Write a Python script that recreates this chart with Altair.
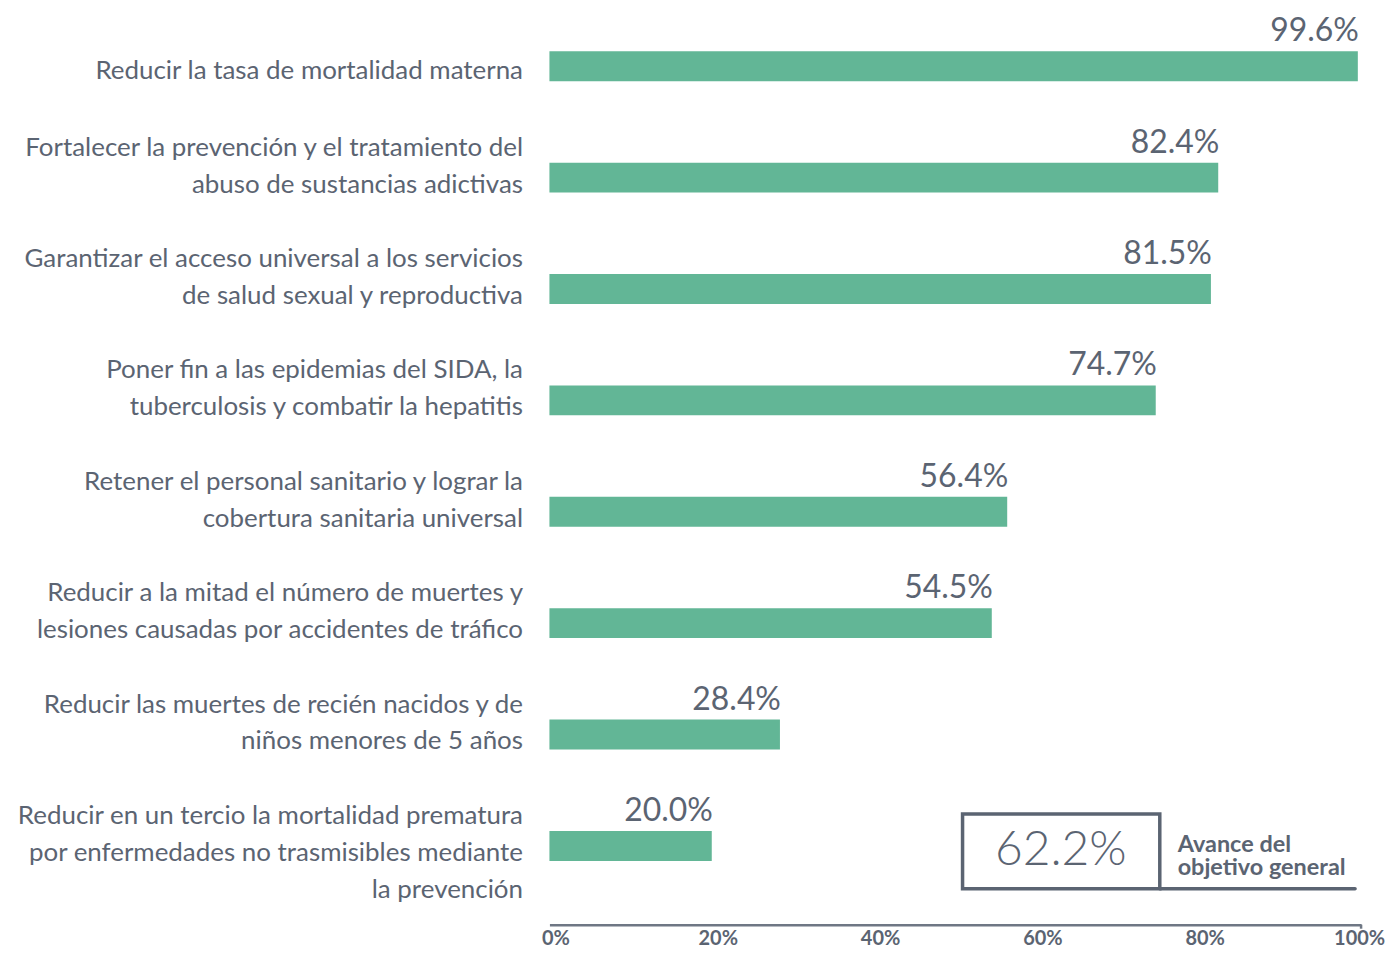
import altair as alt
import pandas as pd

labels = [
    "Reducir la tasa de mortalidad materna",
    "Fortalecer la prevención y el tratamiento del|abuso de sustancias adictivas",
    "Garantizar el acceso universal a los servicios|de salud sexual y reproductiva",
    "Poner fin a las epidemias del SIDA, la|tuberculosis y combatir la hepatitis",
    "Retener el personal sanitario y lograr la|cobertura sanitaria universal",
    "Reducir a la mitad el número de muertes y|lesiones causadas por accidentes de tráfico",
    "Reducir las muertes de recién nacidos y de|niños menores de 5 años",
    "Reducir en un tercio la mortalidad prematura|por enfermedades no trasmisibles mediante|la prevención",
]
values = [99.6, 82.4, 81.5, 74.7, 56.4, 54.5, 28.4, 20.0]
x_ticks = [0, 20, 40, 60, 80, 100]
overall_value = 62.2
overall_text = ["Avance del", "objetivo general"]

TEXT = "#5b6472"
GREEN = "#62b696"
AXIS = "#6f7784"
FONT = "Lato"
H = 896
OFF = 22

df = pd.DataFrame({"label": labels, "value": values})

y_enc = alt.Y(
    "label:N",
    sort=labels,
    title=None,
    scale=alt.Scale(paddingInner=0.7314, paddingOuter=0.376),
    axis=alt.Axis(
        labelExpr="split(datum.label, '|')",
        labelAlign="right",
        labelBaseline="middle",
        labelPadding=27,
        labelFontSize=26,
        labelLineHeight=37,
        labelColor=TEXT,
        labelFont=FONT,
        labelLimit=700,
        labelOffset={
            "condition": [
                {"test": "length(split(datum.value, '|')) == 1", "value": 5},
            ],
            "value": -30,
        },
        domain=False,
        ticks=False,
    ),
)

x_scale = alt.Scale(domain=[0, 100], nice=False)

bars = alt.Chart(df).mark_bar(color=GREEN).encode(
    x=alt.X(
        "value:Q",
        scale=x_scale,
        title=None,
        axis=alt.Axis(
            values=x_ticks,
            labelExpr="datum.value + '%'",
            labelFontSize=20,
            labelFontWeight="bold",
            labelColor=TEXT,
            labelFont=FONT,
            labelPadding=4,
            labelOffset={
                "condition": [{"test": "datum.value == 100", "value": -2}],
                "value": 6,
            },
            ticks=False,
            grid=False,
            domainColor=AXIS,
            domainWidth=2.5,
            offset=OFF,
            labelFlush=False,
        ),
    ),
    y=y_enc,
)

end_tick = alt.Chart(pd.DataFrame({"v": [100]})).mark_rule(
    stroke=AXIS, strokeWidth=2.5
).encode(
    x=alt.X("v:Q", scale=x_scale, title=None),
    y=alt.value(H + OFF),
    y2=alt.value(H + OFF + 4),
)

value_text = alt.Chart(df).transform_calculate(
    txt="format(datum.value, '.1f') + '%'"
).mark_text(
    align="right", baseline="alphabetic", dy=-25, dx=1,
    fontSize=32, fontWeight=400, font=FONT, color=TEXT
).encode(
    x=alt.X("value:Q", scale=x_scale, title=None),
    y=alt.Y("label:N", sort=labels, title=None),
    text="txt:N",
)

box = alt.Chart(pd.DataFrame({"v": [overall_value]})).mark_rect(
    filled=False, stroke=TEXT, strokeWidth=3.5
).encode(
    x=alt.datum(50.9, scale=x_scale, title=None),
    x2=alt.datum(75.2),
    y=alt.value(807),
    y2=alt.value(882),
)

underline = alt.Chart(pd.DataFrame({"v": [overall_value]})).mark_rule(
    stroke=TEXT, strokeWidth=3.5, strokeCap="round"
).encode(
    x=alt.datum(75.2, scale=x_scale, title=None),
    x2=alt.datum(99.26),
    y=alt.value(882),
)

big = alt.Chart(pd.DataFrame({"v": [overall_value]})).transform_calculate(
    txt="format(datum.v, '.1f') + '%'"
).mark_text(
    align="center", baseline="alphabetic", fontSize=48, fontWeight=300,
    font=FONT, color=TEXT
).encode(
    x=alt.datum(63.0, scale=x_scale, title=None),
    y=alt.value(858),
    text="txt:N",
)

caption = alt.Chart(pd.DataFrame({"v": [overall_value]})).mark_text(
    text=overall_text, align="left", baseline="alphabetic", fontSize=23.5,
    fontWeight="bold", font=FONT, color=TEXT, lineHeight=23.5
).encode(
    x=alt.datum(77.4, scale=x_scale, title=None),
    y=alt.value(845),
)

chart = alt.layer(bars, end_tick, value_text, box, underline, big, caption).properties(
    width=814,
    height=H,
    autosize=alt.AutoSizeParams(type="none"),
    padding={"left": 543, "top": 0, "right": 27, "bottom": 44},
).configure_view(stroke=None)

chart.save("out.html", embed_options={"renderer": "svg", "actions": False})
